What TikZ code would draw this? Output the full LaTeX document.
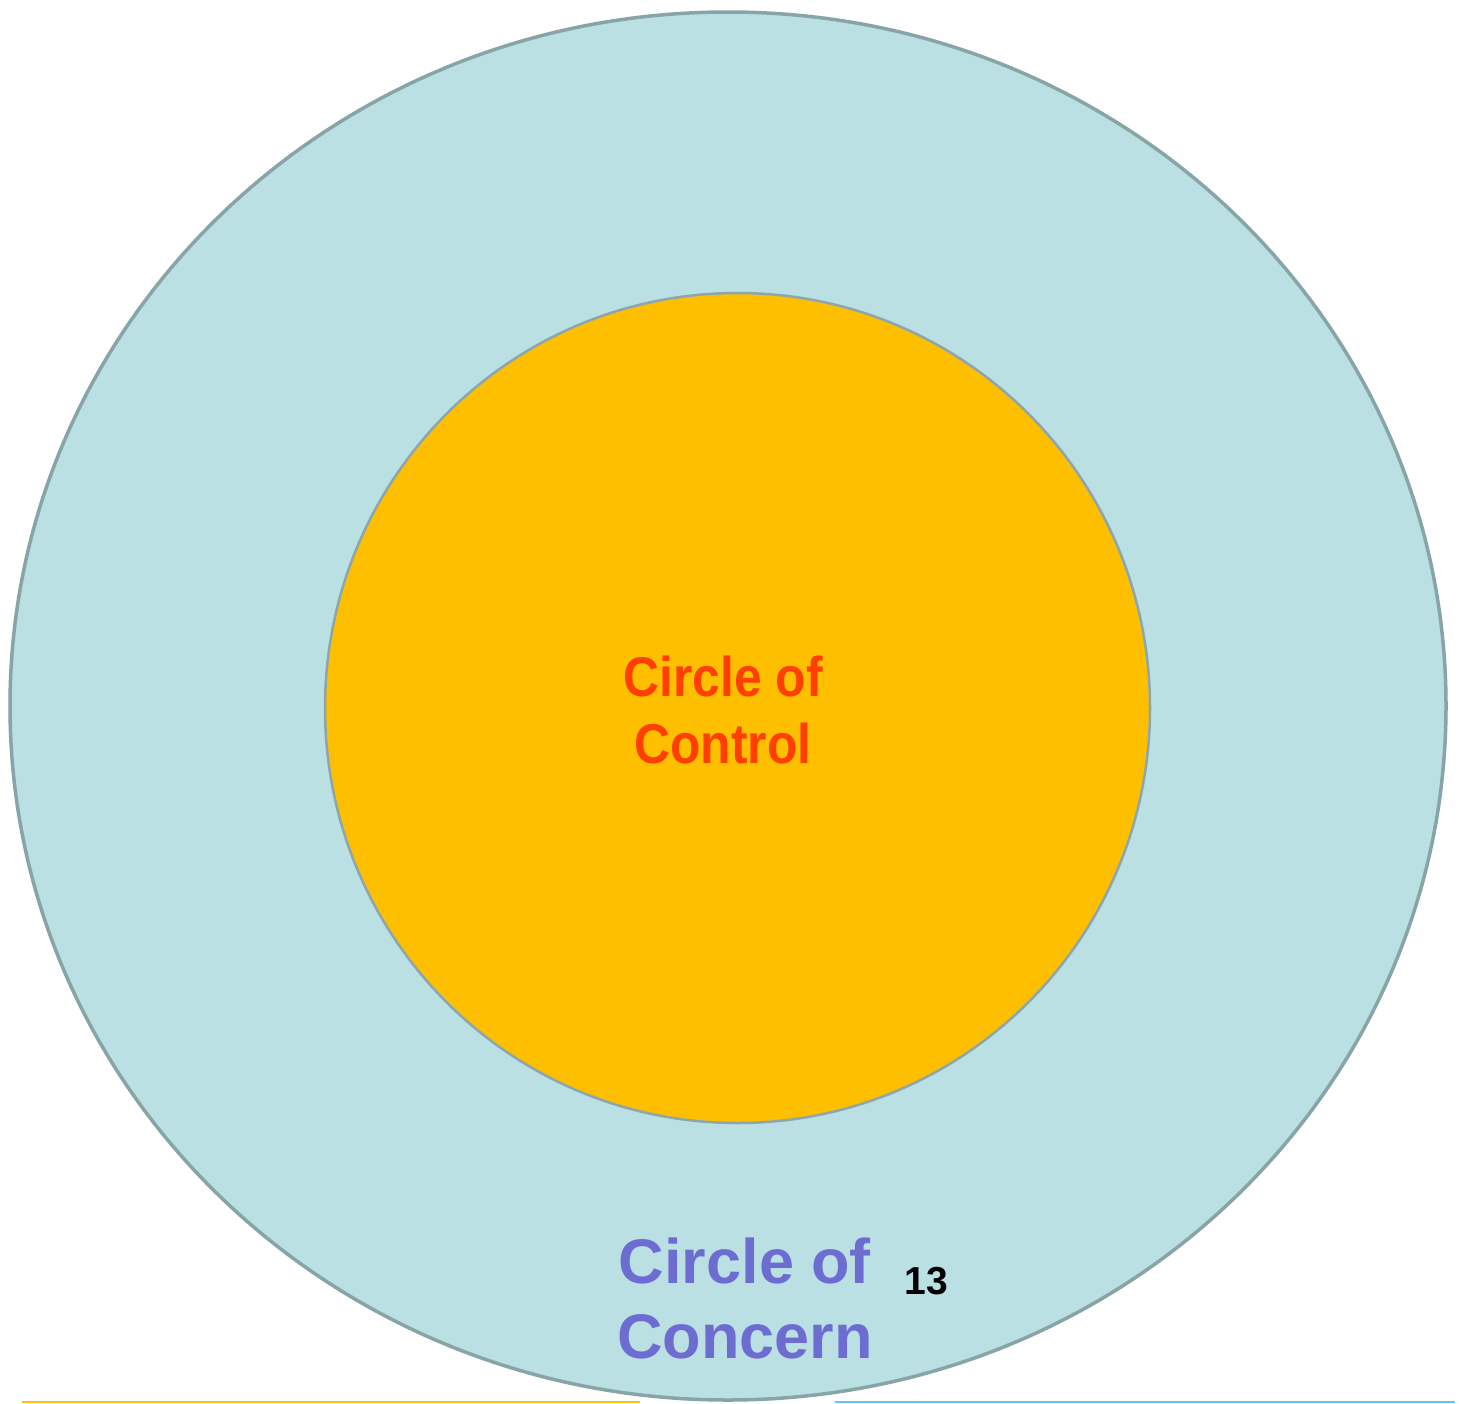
\documentclass[tikz,border=0pt]{standalone}
\usepackage{fontspec}
\setmainfont{Liberation Sans}
\newfontfamily\narrowbold[FakeStretch=0.89]{Liberation Sans Bold}
\definecolor{outerfill}{HTML}{BBE0E3}
\definecolor{outerline}{HTML}{87A5A7}
\definecolor{innerfill}{HTML}{FDBF00}
\definecolor{innerline}{HTML}{8CA6AE}
\definecolor{ctrltext}{HTML}{FF3F00}
\definecolor{conctext}{HTML}{6D6DD1}
\definecolor{yline}{HTML}{FFC000}
\definecolor{bline}{HTML}{5BC8F5}
\begin{document}
\begin{tikzpicture}[x=1pt,y=-1pt,
  lbl/.style={align=center, inner sep=0pt}]
\useasboundingbox (0,0) rectangle (1459,1403);
\fill[white] (0,0) rectangle (1459,1403);
\draw[outerline, fill=outerfill, line width=3.5pt] (728,706) ellipse [x radius=718, y radius=694];
\draw[innerline, fill=innerfill, line width=2.5pt] (737.5,708) ellipse [x radius=412.5, y radius=415];
\node[lbl, text=ctrltext, font=\fontsize{56}{67}\narrowbold] (ctrl) at (723,710) {Circle of\\Control};
\node[lbl, text=conctext, font=\fontsize{63}{75}\selectfont\bfseries] (conc) at (745,1298) {Circle of\\Concern};
\node[lbl, text=black, font=\fontsize{39}{45}\selectfont\bfseries] (num) at (926,1281) {13};
\draw[yline, line width=2pt] (22,1402) -- (640,1402);
\draw[bline, line width=2pt] (835,1402) -- (1455,1402);
\end{tikzpicture}
\end{document}
